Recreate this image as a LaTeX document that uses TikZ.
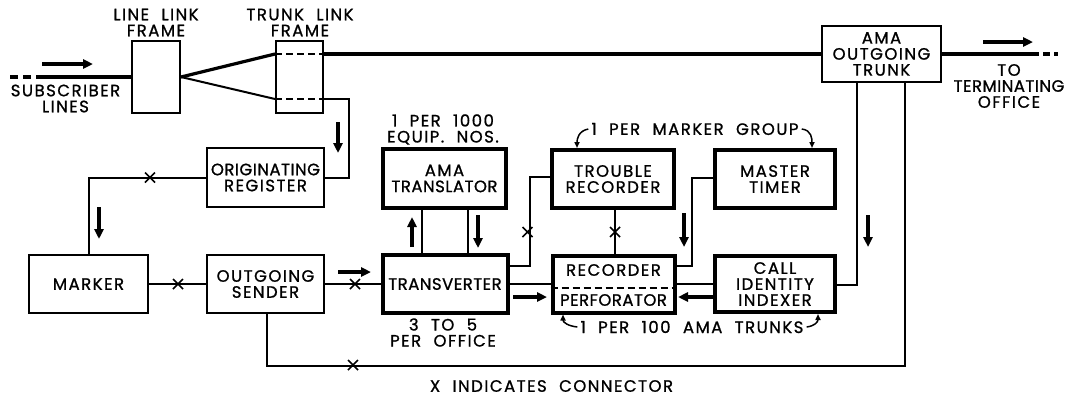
\documentclass[tikz,border=0pt]{standalone}
\usepackage{fontspec}
\setmainfont{Poppins}[LetterSpace=9,FakeBold=1,WordSpace=2.1]
\usetikzlibrary{arrows.meta}
\newcommand\dlbl{\fontsize{16.5}{16}\selectfont}
\newcommand\dtight{\addfontfeature{LetterSpace=3}}
\begin{document}
\begin{tikzpicture}[x=1pt,y=-1pt,
  thinbox/.style={draw, line width=2pt, inner sep=0pt, align=center, font=\dlbl},
  thickbox/.style={draw, line width=4pt, inner sep=0pt, align=center, font=\dlbl},
  note/.style={inner sep=0pt, align=center, font=\dlbl},
  wire/.style={line width=2pt},
  fat/.style={line width=3.2pt},
  flow/.style={line width=3.2pt, -{Triangle[length=10pt,width=9pt]}},
  hook/.style={line width=1.5pt, -{Triangle[length=6pt,width=5pt]}},
  xc/.pic={\draw[line width=1.7pt] (-5,-5)--(5,5) (-5,5)--(5,-5);}
]
\useasboundingbox (0,0) rectangle (1069,397);

% boxes
\node[thinbox, minimum width=48pt, minimum height=72pt] (llf) at (156,77) {};
\node[thinbox, minimum width=47pt, minimum height=72pt] (tlf) at (299.5,77) {};
\node[thinbox, minimum width=119pt, minimum height=56pt] (amaot) at (881.5,54) {AMA\\OUTGOING\\TRUNK};
\node[thinbox, minimum width=117pt, minimum height=59pt] (origreg) at (265.5,177.5) {\dtight ORIGINATING\\REGISTER};
\node[thinbox, minimum width=119pt, minimum height=58pt] (marker) at (88.5,284) {MARKER};
\node[thinbox, minimum width=117pt, minimum height=58pt] (sender) at (265.5,284) {OUTGOING\\SENDER};
\node[thickbox, minimum width=125pt, minimum height=58pt] (transv) at (445,284) {\dtight TRANSVERTER};
\node[thickbox, minimum width=123pt, minimum height=59pt] (amatr) at (444.5,178.5) {AMA\\{\dtight TRANSLATOR}};
\node[thickbox, minimum width=122pt, minimum height=58pt] (troub) at (613,179) {TROUBLE\\RECORDER};
\node[thickbox, minimum width=122pt, minimum height=57pt] (recperf) at (613.5,284) {};
\node[note] (rectxt) at (613.5,270) {RECORDER};
\node[note, font=\dlbl\dtight] (perftxt) at (613.5,300) {PERFORATOR};
\draw[wire, dash pattern=on 7pt off 4pt] ([yshift=-4pt]recperf.west) -- ([yshift=-4pt]recperf.east);
\node[thickbox, minimum width=120pt, minimum height=58pt] (mtimer) at (775,179) {MASTER\\TIMER};
\node[thickbox, minimum width=120pt, minimum height=56pt] (cii) at (775,284) {CALL\\IDENTITY\\INDEXER};

% labels
\node[note] (llflbl) at (156,22.5) {LINE LINK\\FRAME};
\node[note] (tlflbl) at (300,22.5) {TRUNK LINK\\FRAME};
\node[note] (sublbl) at (65.5,98.5) {SUBSCRIBER\\LINES};
\node[note] (eqlbl) at (443,129.5) {1 PER 1000\\EQUIP. NOS.};
\node[note] (mgtxt) at (695,129) {1 PER MARKER GROUP};
\node[note] (offlbl) at (443,332.5) {3 TO 5\\PER OFFICE};
\node[note] (trtxt) at (692,327) {1 PER 100 AMA TRUNKS};
\node[note] (tolbl) at (1009,86) {TO\\{\dtight TERMINATING}\\OFFICE};
\node[note] (legend) at (551.5,386) {X INDICATES CONNECTOR};

% subscriber lines
\coordinate (subend) at (10,77);
\coordinate (subdash) at (40,77);
\draw[fat, dash pattern=on 8pt off 5pt] (subend) -- (subdash);
\draw[fat] (subdash) -- (llf.west);

% link frames
\draw[fat] (llf.east) -- ([yshift=23pt]tlf.west);
\draw[wire] (llf.east) -- ([yshift=-22pt]tlf.west);
\draw[wire, dash pattern=on 7pt off 4pt] ([yshift=23pt]tlf.west) -- ([yshift=23pt]tlf.east);
\draw[wire, dash pattern=on 7pt off 4pt] ([yshift=-22pt]tlf.west) -- ([yshift=-22pt]tlf.east);
\draw[fat] ([yshift=23pt]tlf.east) -- (amaot.west);
\coordinate (toend1) at (1032,54);
\coordinate (toend2) at (1058,54);
\draw[fat] (amaot.east) -- (toend1);
\draw[fat, dash pattern=on 7pt off 4pt] (toend1) -- (toend2);
\draw[wire] ([yshift=-22pt]tlf.east) -- ++(25,0) |- (origreg.east);

% left part
\draw[wire] (origreg.west) -| (marker.north);
\pic at (150,177.5) {xc};
\draw[wire] (marker.east) -- (sender.west);
\pic at (178,284) {xc};
\draw[wire] (sender.east) -- (transv.west);
\pic at (355,284) {xc};

% translator links
\coordinate (a1) at ([xshift=-22.5pt]amatr.south);
\coordinate (a2) at ([xshift=23.5pt]amatr.south);
\draw[wire] (a1) -- (a1 |- transv.north);
\draw[wire] (a2) -- (a2 |- transv.north);

% trouble recorder links
\draw[wire] ([yshift=18pt]transv.east) -- ++(20,0) |- ([yshift=2pt]troub.west);
\pic at (527.5,232) {xc};
\coordinate (tb) at ([xshift=2pt]troub.south);
\draw[wire] (tb) -- (tb |- recperf.north);
\pic at (615,232) {xc};

% main horizontal
\draw[wire] (transv.east) -- (recperf.west);
\draw[wire] (recperf.east) -- (cii.west);
\draw[wire] ([yshift=1pt]mtimer.west) -- ++(-21,0) |- ([yshift=18pt]recperf.east);
\draw[wire] ([yshift=-1pt]cii.east) -| ([xshift=-24.5pt]amaot.south);
\draw[wire] ([xshift=23.5pt]amaot.south) -- ++(0,283) -| ([xshift=1.5pt]sender.south);
\pic at (353,365) {xc};

% flow arrows
\coordinate (f1a) at (42,64);   \coordinate (f1b) at (93,64);
\coordinate (f2a) at (338,122); \coordinate (f2b) at (338,153);
\coordinate (f3a) at (99,207);  \coordinate (f3b) at (99,239);
\coordinate (f4a) at (338,272); \coordinate (f4b) at (371,272);
\coordinate (f5a) at (412,247); \coordinate (f5b) at (412,217);
\coordinate (f6a) at (478,215); \coordinate (f6b) at (478,248);
\coordinate (f7a) at (513,297); \coordinate (f7b) at (547,297);
\coordinate (f8a) at (684,213); \coordinate (f8b) at (684,247);
\coordinate (f9a) at (713,297); \coordinate (f9b) at (678,297);
\coordinate (f10a) at (868,215); \coordinate (f10b) at (868,247);
\coordinate (f11a) at (983,42); \coordinate (f11b) at (1033,42);
\foreach \i in {1,...,11} {\draw[flow] (f\i a) -- (f\i b);}

% hook arrows
\draw[hook] ([xshift=-3pt]mgtxt.west) .. controls +(-10,2) and +(0,-9) .. ([xshift=-36pt]troub.north);
\draw[hook] ([xshift=3pt]mgtxt.east) .. controls +(10,1) and +(0,-9) .. ([xshift=37pt]mtimer.north);
\draw[hook] ([xshift=-3pt]trtxt.west) .. controls +(-9,-1) and +(0,8) .. ([xshift=-50.5pt]recperf.south);
\draw[hook] ([xshift=3pt]trtxt.east) .. controls +(8,-1) and +(0,8) .. ([xshift=43pt]cii.south);
\end{tikzpicture}
\end{document}
